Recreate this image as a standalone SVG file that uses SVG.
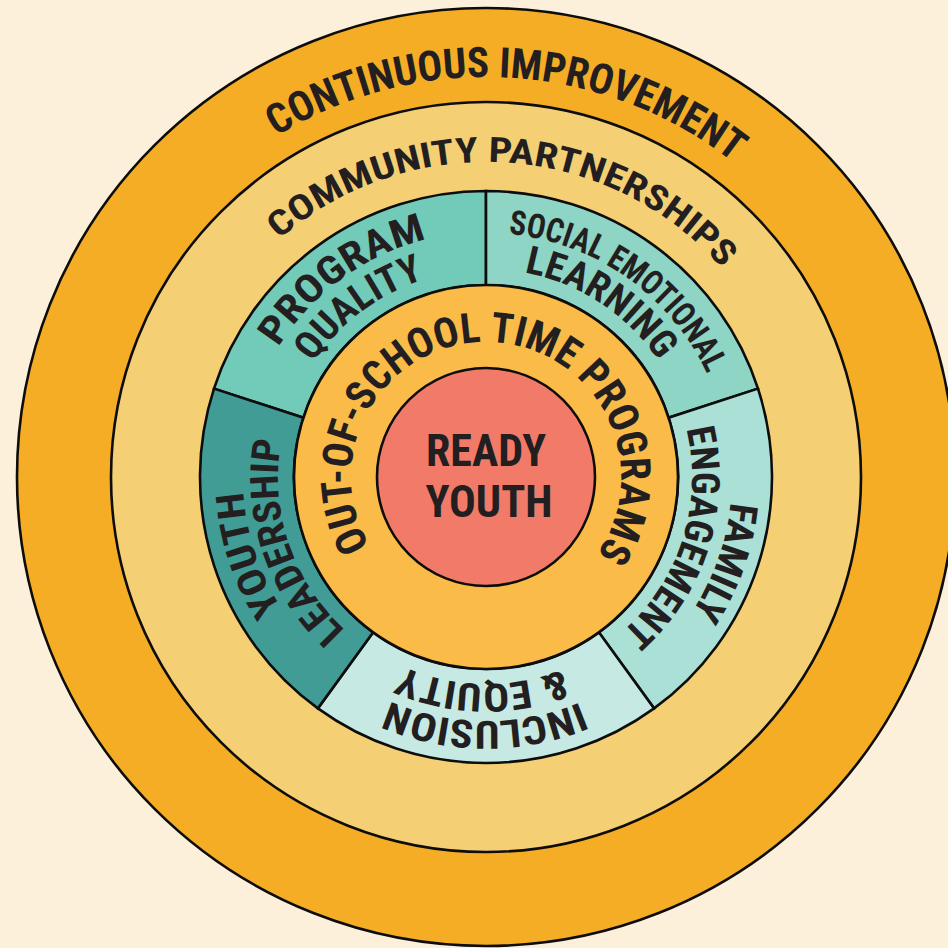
<svg xmlns="http://www.w3.org/2000/svg" width="948" height="948" viewBox="0 0 948 948">
  <style>
    .ring { stroke: #0d0d0d; stroke-width: 2.6; }
    .lbl { font-family: "Roboto Condensed", "Roboto", "Liberation Sans Narrow", sans-serif; font-weight: 700; fill: #231f20; }
  </style>
  <defs>
    <!-- baseline arcs for the curved labels (all run clockwise around 486,477) -->
    <path id="arc-ci" d="M276.4,136.3 A400,400 0 0 1 774.2,199.6"/>
    <path id="arc-cp" d="M279.3,239.3 A315,315 0 0 1 748.7,303.1"/>
    <path id="arc-ost" d="M369.9,545.9 A135,135 0 1 1 585.4,568.4"/>
    <path id="arc-pq1" d="M278.2,347.2 A245,245 0 0 1 460.4,233.3"/>
    <path id="arc-pq2" d="M313.4,362.7 A207,207 0 0 1 452.2,272.8"/>
    <path id="arc-sel1" d="M508.5,234.0 A244,244 0 0 1 719.5,406.1"/>
    <path id="arc-sel2" d="M524.3,272.5 A208,208 0 0 1 672.9,385.8"/>
    <path id="arc-fe1" d="M730.7,502.3 A246,246 0 0 1 670.5,639.7"/>
    <path id="arc-fe2" d="M686.3,428.9 A206,206 0 0 1 598.8,649.4"/>
    <path id="arc-ie1" d="M580.2,702.1 A244,244 0 0 1 359.2,685.5"/>
    <path id="arc-ie2" d="M562.5,669.3 A207,207 0 0 1 376.9,652.9"/>
    <path id="arc-yl1" d="M281.7,608.6 A243,243 0 0 1 243.7,457.9"/>
    <path id="arc-yl2" d="M345.2,630.1 A208,208 0 0 1 288.3,412.4"/>
  </defs>

  <rect width="948" height="948" fill="#fdf0db"/>

  <g id="continuous-improvement">
    <circle class="ring" cx="486" cy="477" r="469" fill="#f5ad25"/>
    <text class="lbl" font-size="42"><textPath href="#arc-ci" textLength="486.6" lengthAdjust="spacingAndGlyphs">CONTINUOUS IMPROVEMENT</textPath></text>
  </g>

  <g id="community-partnerships">
    <circle class="ring" cx="486" cy="477" r="375" fill="#f5cf74"/>
    <text class="lbl" font-size="35"><textPath href="#arc-cp" textLength="492.1" lengthAdjust="spacingAndGlyphs">COMMUNITY PARTNERSHIPS</textPath></text>
  </g>

  <g id="program-quality">
    <path class="ring" fill="#72cbb9" d="M214.00,388.62 A286,286 0 0 1 486,191 L486,285 A192,192 0 0 0 303.40,417.67 Z"/>
    <text class="lbl" font-size="39"><textPath href="#arc-pq1" textLength="188.1" lengthAdjust="spacingAndGlyphs">PROGRAM</textPath></text>
    <text class="lbl" font-size="39"><textPath href="#arc-pq2" textLength="141.3" lengthAdjust="spacingAndGlyphs">QUALITY</textPath></text>
  </g>

  <g id="social-emotional-learning">
    <path class="ring" fill="#8ed5c5" d="M486,191 A286,286 0 0 1 758.00,388.62 L668.60,417.67 A192,192 0 0 0 486,285 Z"/>
    <text class="lbl" font-size="34"><textPath href="#arc-sel1" textLength="254.2" lengthAdjust="spacingAndGlyphs">SOCIAL EMOTIONAL</textPath></text>
    <text class="lbl" font-size="39"><textPath href="#arc-sel2" textLength="164.8" lengthAdjust="spacingAndGlyphs">LEARNING</textPath></text>
  </g>

  <g id="family-engagement">
    <path class="ring" fill="#aae0d6" d="M758.00,388.62 A286,286 0 0 1 654.11,708.38 L598.85,632.33 A192,192 0 0 0 668.60,417.67 Z"/>
    <text class="lbl" font-size="39"><textPath href="#arc-fe1" textLength="118.1" lengthAdjust="spacingAndGlyphs">FAMILY</textPath></text>
    <text class="lbl" font-size="39"><textPath href="#arc-fe2" textLength="224" lengthAdjust="spacingAndGlyphs">ENGAGEMENT</textPath></text>
  </g>

  <g id="inclusion-equity">
    <path class="ring" fill="#c6eae3" d="M654.11,708.38 A286,286 0 0 1 317.89,708.38 L373.15,632.33 A192,192 0 0 0 598.85,632.33 Z"/>
    <text class="lbl" font-size="39"><textPath href="#arc-ie1" textLength="195.9" lengthAdjust="spacingAndGlyphs">INCLUSION</textPath></text>
    <text class="lbl" font-size="39"><textPath href="#arc-ie2" textLength="164.4" lengthAdjust="spacingAndGlyphs">&amp; EQUITY</textPath></text>
  </g>

  <g id="youth-leadership">
    <path class="ring" fill="#419c96" d="M317.89,708.38 A286,286 0 0 1 214.00,388.62 L303.40,417.67 A192,192 0 0 0 373.15,632.33 Z"/>
    <text class="lbl" font-size="39"><textPath href="#arc-yl1" textLength="124.7" lengthAdjust="spacingAndGlyphs">YOUTH</textPath></text>
    <text class="lbl" font-size="39"><textPath href="#arc-yl2" textLength="208.7" lengthAdjust="spacingAndGlyphs">LEADERSHIP</textPath></text>
  </g>

  <g id="out-of-school-time-programs">
    <circle class="ring" cx="486" cy="477" r="192" fill="#fabb48"/>
    <text class="lbl" font-size="42"><textPath href="#arc-ost" textLength="578" lengthAdjust="spacingAndGlyphs">OUT-OF-SCHOOL TIME PROGRAMS</textPath></text>
  </g>

  <g id="ready-youth">
    <circle class="ring" cx="486" cy="477" r="109" fill="#f27a69"/>
    <text class="lbl" font-size="44" x="486" y="466" text-anchor="middle" textLength="120" lengthAdjust="spacingAndGlyphs">READY</text>
    <text class="lbl" font-size="44" x="489" y="517" text-anchor="middle" textLength="127" lengthAdjust="spacingAndGlyphs">YOUTH</text>
  </g>
</svg>
